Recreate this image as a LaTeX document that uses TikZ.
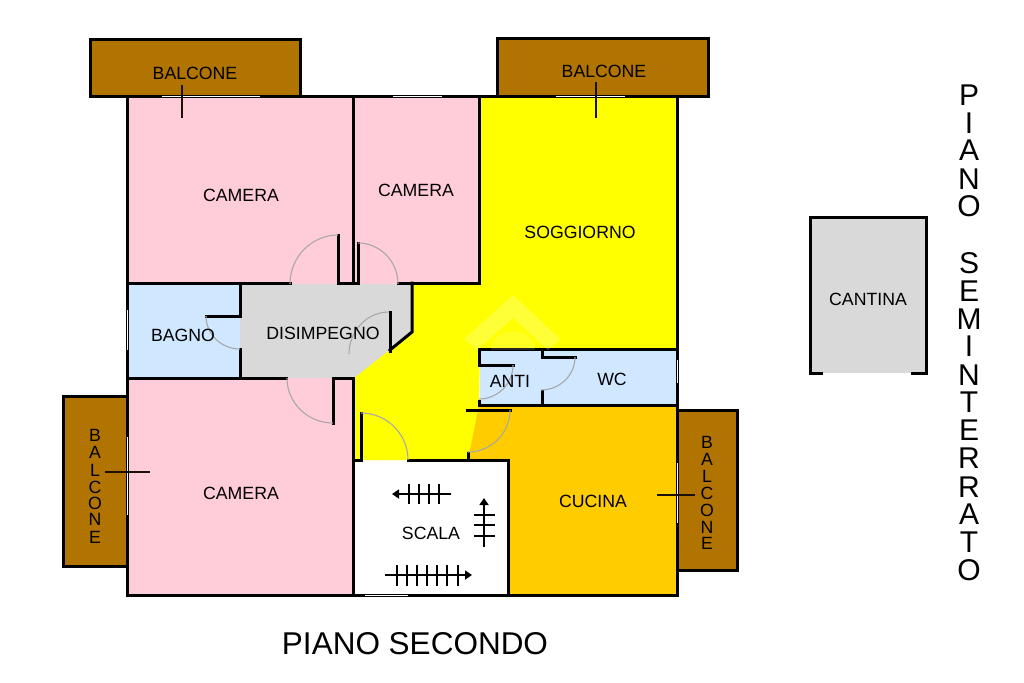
\documentclass[tikz,border=0pt]{standalone}
\usepackage{fontspec}
\setmainfont{Liberation Sans}
\usetikzlibrary{calc,arrows.meta}
\definecolor{rosa}{HTML}{FFCCD9}
\definecolor{giallo}{HTML}{FFFF00}
\definecolor{azzurro}{HTML}{CFE7FF}
\definecolor{arancio}{HTML}{FFCC00}
\definecolor{marrone}{HTML}{B27400}
\definecolor{grigio}{HTML}{D9D9D9}
\definecolor{battente}{HTML}{A8A8A8}
\tikzset{
  wall/.style={line width=3pt,black,line cap=rect,line join=miter},
  window/.style={line width=1pt,white},
  leader/.style={line width=1.5pt,black!85!marrone},
  swing/.style={line width=1.1pt,battente},
  tread/.style={line width=1.2pt,black},
  flight/.style={line width=1.8pt,black,-{Triangle[length=7pt,width=9pt]}},
  label/.style={inner sep=0pt,font=\fontsize{17.7}{18}\selectfont},
  biglabel/.style={inner sep=0pt,font=\fontsize{31.5}{32}\selectfont},
  vlabel/.style={inner sep=0pt,font=\fontsize{30}{30}\selectfont},
}
\newcommand{\doorswing}[6]{\draw[swing] (#1,#2) .. controls ($(#1,#2)!.552!(#3,#4)$) and ($(#5,#6)!.552!(#3,#4)$) .. (#5,#6);}
\begin{document}
\begin{tikzpicture}[x=1pt,y=-1pt]
\useasboundingbox (0,0) rectangle (1024,682);
\fill[white] (0,0) rectangle (1024,682);
% fills
\fill[rosa] (127,97) rectangle (353,284);
\fill[rosa] (353,97) rectangle (480,284);
\fill[rosa] (127,378) rectangle (353,596);
\fill[azzurro] (127,284) rectangle (240,378);
\fill[giallo] (480,97) -- (678,97) -- (678,349) -- (480,349) -- (479,405) -- (469,460) -- (353,460) -- (353,378) -- (412,330) -- (412,284) -- (480,284) -- cycle;
\fill[grigio] (240,284) -- (412,284) -- (412,332) -- (354,378) -- (240,378) -- cycle;
\fill[azzurro] (480,349) rectangle (678,405);
\fill[arancio] (479,405) -- (678,405) -- (678,596) -- (509,596) -- (509,460) -- (468,460) -- cycle;
\fill[marrone] (90,40) rectangle (300,97);
\fill[marrone] (497,39) rectangle (708,97);
\fill[marrone] (63,396) rectangle (127,566);
\fill[marrone] (678,410) rectangle (737,570);
\fill[grigio] (810,217) rectangle (926,373);
% walls
\draw[wall] (127,97) -- (90.5,97) -- (90.5,40) -- (300,40) -- (300,97);
\draw[wall] (497,97) -- (497,39) -- (708,39) -- (708,97) -- (677.5,97);
\draw[wall] (127,396) -- (63,396) -- (63,566) -- (127,566);
\draw[wall] (677.5,410) -- (737,410) -- (737,570) -- (677.5,570);
\draw[wall] (127,97) -- (677.5,97) -- (677.5,595.5) -- (127,595.5) -- cycle;
\draw[wall] (353,97) -- (353,283);
\draw[wall] (479.5,97) -- (479.5,283);
\draw[wall] (127,283) -- (290,283);
\draw[wall] (338,235) -- (338,283) -- (358,283) -- (358,243);
\draw[wall] (398,283) -- (479.5,283);
\draw[wall] (412,283) -- (412,332) -- (390,350);
\draw[wall] (390,312) -- (390,351);
\draw[wall] (240,283) -- (240,316) -- (206,316);
\draw[wall] (240,349) -- (240,378);
\draw[wall] (127,378) -- (286,378);
\draw[wall] (333,423) -- (333,378) -- (353,378);
\draw[wall] (353,378) -- (353,594);
\draw[wall] (361,413) -- (361,460);
\draw[wall] (353,460) -- (361,460);
\draw[wall] (408,460) -- (508.5,460) -- (508.5,594);
\draw[wall] (468,453) -- (468,460);
\draw[wall] (513,365) -- (479,365) -- (479,349) -- (677.5,349);
\draw[wall] (542,349) -- (542,357) -- (575,357);
\draw[wall] (542,391) -- (542,405);
\draw[wall] (479,401) -- (479,405) -- (677.5,405);
\draw[wall] (467,410) -- (510,410);
\draw[wall] (821,373) -- (810,373) -- (810,217) -- (926,217) -- (926,373) -- (912,373);
% windows
\draw[window] (162,96.5) -- (260,96.5);
\draw[window] (393,96.5) -- (442,96.5);
\draw[window] (556,96.5) -- (625,96.5);
\draw[window] (127,310) -- (127,350);
\draw[window] (127,437) -- (127,515);
\draw[window] (677.5,463) -- (677.5,523);
\draw[window] (677.5,360) -- (677.5,383);
\draw[window] (365,595) -- (408,595);
% door swings
\doorswing{338}{235}{290}{235}{290}{284}
\doorswing{358}{243}{398}{243}{398}{284}
\doorswing{389}{312}{349}{312}{349}{354}
\doorswing{206}{316}{206}{349}{240}{349}
\doorswing{287}{378}{287}{423}{333}{423}
\doorswing{361}{413}{408}{413}{408}{460}
\doorswing{513}{365}{513}{399}{479}{399}
\doorswing{575}{357}{575}{390}{541}{390}
\doorswing{510}{410}{510}{452}{468}{452}
% leaders
\draw[leader] (182,85) -- (182,118);
\draw[leader] (596,82) -- (596,118);
\draw[leader] (105,472) -- (150,472);
\draw[leader] (657,495) -- (695,495);
% stairs
\draw[flight] (451,494) -- (392,494);
\foreach \x in {409,419,429,439} \draw[tread] (\x,484) -- (\x,504);
\draw[flight] (484,547) -- (484,498);
\foreach \y in {515,525,536} \draw[tread] (474,\y) -- (495,\y);
\draw[flight] (385,575) -- (472,575);
\foreach \x in {397,407,417,427,437,447,458} \draw[tread] (\x,565) -- (\x,586);
% watermark
\fill[white,opacity=.22] (513,295) -- (560,339) -- (548,350) -- (513,318) -- (477,350) -- (464,339) -- cycle;
\fill[white,opacity=.14] (491,350) .. controls (491,325) and (535,325) .. (535,350) -- cycle;
% labels
\node[label] (balconeA) at (195,73) {BALCONE};
\node[label] (balconeB) at (604,71) {BALCONE};
\node[label] (cameraA) at (241,195) {CAMERA};
\node[label] (cameraB) at (416,190) {CAMERA};
\node[label] (soggiorno) at (580,232) {SOGGIORNO};
\node[label] (bagno) at (183,335) {BAGNO};
\node[label] (disimpegno) at (323,333) {DISIMPEGNO};
\node[label] (anti) at (510,381) {ANTI};
\node[label] (wc) at (612,379) {WC};
\node[label] (cameraC) at (241,493) {CAMERA};
\node[label] (cucina) at (593,501) {CUCINA};
\node[label] (scala) at (431,533) {SCALA};
\node[label] (cantina) at (868,299) {CANTINA};
\node[biglabel] (secondo) at (415,644) {PIANO SECONDO};
\foreach \l/\y in {B/435,A/452,L/470,C/487,O/503,N/519,E/537} \node[label] (bl\y) at (95,\y) {\l};
\foreach \l/\y in {B/442,A/459,L/476,C/493,O/510,N/527,E/543} \node[label] (br\y) at (707,\y) {\l};
\foreach \l/\y in {P/95,I/123,A/150,N/179,O/206,S/263,E/291,M/319,I/346,N/375,T/402,E/430,R/458,R/487,A/514,T/542,O/570} \node[vlabel] (pv\y) at (969,\y) {\l};
\end{tikzpicture}
\end{document}
